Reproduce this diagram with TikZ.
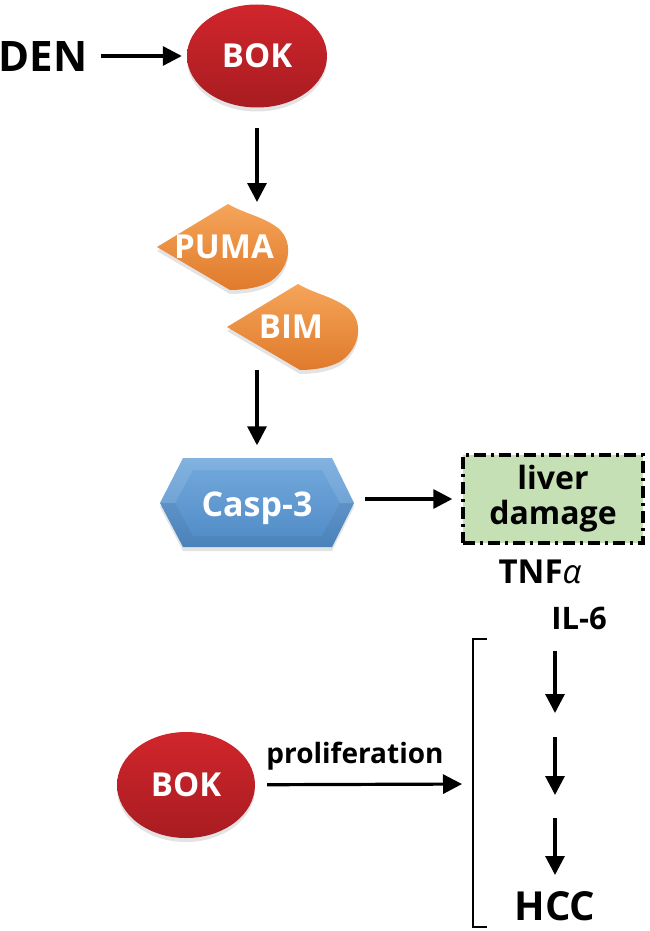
\documentclass[tikz,border=0pt]{standalone}
\usepackage{fontspec}
\setmainfont{Open Sans}
\usetikzlibrary{shapes.geometric,arrows.meta,shadows}
\definecolor{redtop}{HTML}{D0262C}
\definecolor{redbot}{HTML}{A81C21}
\definecolor{ortop}{HTML}{F5A55A}
\definecolor{orbot}{HTML}{E07A2B}
\definecolor{bluetop}{HTML}{74AADD}
\definecolor{bluebot}{HTML}{4F8AC5}
\definecolor{liverg}{HTML}{C6E0B5}
\begin{document}
\begin{tikzpicture}[x=1pt,y=-1pt,
  arr/.style={line width=3.2pt,-{Triangle[length=19pt,width=19pt]}},
  blk/.style={inner sep=0pt,font=\bfseries\fontsize{#1}{#1}\selectfont},
  wht/.style={inner sep=0pt,text=white,font=\bfseries\fontsize{#1}{#1}\selectfont},
  softshadow/.style={drop shadow={shadow xshift=0pt,shadow yshift=-4pt,opacity=0.22}},
  redball/.style={ellipse,inner sep=0pt,minimum width=140pt,minimum height=103pt,
    top color=redtop,bottom color=redbot,softshadow,text=white,
    font=\bfseries\fontsize{33}{33}\selectfont},
  dropst/.style={top color=ortop,bottom color=orbot,softshadow},
  leaf/.pic={\path[dropst] (0,0) -- (71,-43) .. controls (88,-33) and (105,-31) .. (121,-19)
     .. controls (135,-7) and (135,15) .. (118,31) .. controls (108,40) and (88,43) .. (73,43) -- cycle;}
]
\useasboundingbox (0,0) rectangle (650,931);

% top row
\node[blk=42,anchor=base] (den) at (43,72) {DEN};
\node[redball] (bok1) at (257,56) {BOK};
\draw[arr,shorten <=13pt,shorten >=5pt] (den.east |- bok1) -- (bok1.west);

% PUMA / BIM
\pic at (157,247) {leaf};
\pic at (227,327) {leaf};
\node[wht=33,anchor=base] (puma) at (224,258) {PUMA};
\node[wht=33,anchor=base] (bim) at (291,338) {BIM};
\coordinate (pumatop) at (257,202);
\coordinate (bimbot) at (257,370);
\draw[arr,shorten <=20pt] (bok1) -- (pumatop);

% Casp-3
\path[top color=bluetop,bottom color=bluebot,softshadow]
  (160,503) -- (183,458) -- (332,458) -- (354,503) -- (332,547) -- (183,547) -- cycle;
\fill[white,opacity=0.10] (160,503) -- (183,458) -- (332,458) -- (354,503) -- (340,503)
  -- (322,470) -- (193,470) -- (175,503) -- cycle;
\fill[black,opacity=0.05] (160,503) -- (183,547) -- (332,547) -- (354,503) -- (340,503)
  -- (322,536) -- (193,536) -- (175,503) -- cycle;
\node[wht=34,text depth=0pt,minimum width=194pt,minimum height=89pt] (casp) at (257,504) {Casp-3};
\draw[arr,shorten >=14pt] (bimbot) -- (casp);

% liver damage
\node[draw,line width=3.4pt,dash pattern=on 12pt off 5pt on 3pt off 5pt,fill=liverg,
  minimum width=180pt,minimum height=88pt,inner sep=0pt,align=center,
  font=\bfseries\fontsize{32}{35}\selectfont] (liver) at (553,499) {liver\\damage};
\draw[arr,shorten <=11pt,shorten >=9pt] (casp.east |- liver) -- (liver.west);

\node[blk=33,anchor=base] (tnf) at (540,583) {TNF{\mdseries\itshape α}};
\node[blk=31,anchor=base] (il6) at (579,629) {IL-6};

% bottom
\node[redball,minimum width=138pt,minimum height=106pt] (bok2) at (186,785) {BOK};
\coordinate (brk) at (473,784);
\draw[arr,shorten <=12pt,shorten >=11pt] (bok2) -- (brk);
\node[blk=28,anchor=base] (prolif) at (355,763) {proliferation};

\draw[line width=2pt] (487,639) -- (473,639) -- (473,927) -- (487,927);

\coordinate (c1) at (555,651);
\coordinate (c2) at (555,713);
\coordinate (c3) at (555,737);
\coordinate (c4) at (555,795);
\coordinate (c5) at (555,818);
\coordinate (c6) at (555,875);
\draw[arr] (c1) -- (c2);
\draw[arr] (c3) -- (c4);
\draw[arr] (c5) -- (c6);
\node[blk=40,anchor=base] (hcc) at (555,920) {HCC};
\end{tikzpicture}
\end{document}
